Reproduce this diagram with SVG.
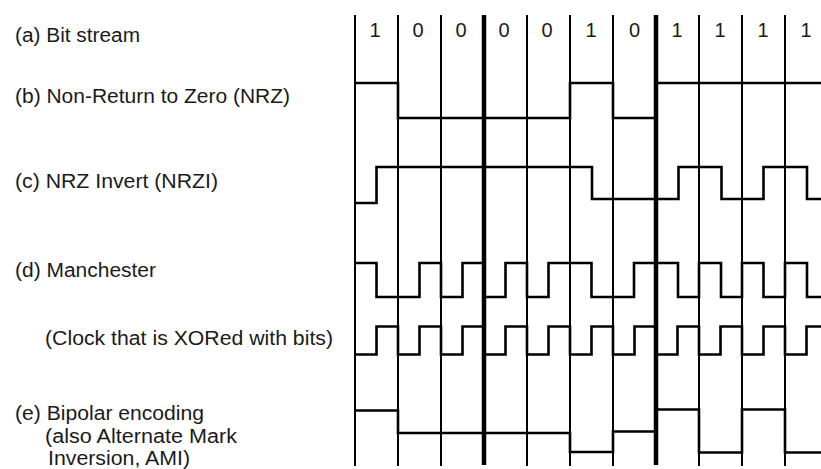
<svg xmlns="http://www.w3.org/2000/svg" width="821" height="469" viewBox="0 0 821 469">
<style>
text{font-family:"Liberation Sans",Arial,sans-serif;font-size:20px;fill:#1a1a1a}
.bit{text-anchor:middle}
.grid{stroke:#000;stroke-width:2;fill:none}
.thick{stroke:#000;stroke-width:4.5;fill:none}
.sig{stroke:#000;stroke-width:2.6;fill:none;stroke-linejoin:miter}
</style>
<rect width="821" height="469" fill="#fff"/>
<g id="grid">
<path class="grid" d="M355,15V466M398,15V466M441,15V466M527,15V466M570,15V466M613,15V466M699,15V466M742,15V466M785,15V466"/>
<path class="thick" d="M484,15V465M656,15V465"/>
</g>
<g id="bitstream">
<text x="15" y="42" textLength="125" lengthAdjust="spacingAndGlyphs">(a) Bit stream</text>
<text class="bit" x="375" y="37">1</text>
<text class="bit" x="418" y="37">0</text>
<text class="bit" x="461" y="37">0</text>
<text class="bit" x="504" y="37">0</text>
<text class="bit" x="547" y="37">0</text>
<text class="bit" x="591" y="37">1</text>
<text class="bit" x="634.5" y="37">0</text>
<text class="bit" x="677" y="37">1</text>
<text class="bit" x="720" y="37">1</text>
<text class="bit" x="763" y="37">1</text>
<text class="bit" x="806" y="37">1</text>
</g>
<g id="nrz">
<text x="15" y="103" textLength="275" lengthAdjust="spacingAndGlyphs">(b) Non-Return to Zero (NRZ)</text>
<path class="sig" d="M355,83H398V118H570V83H613V118H656V83H821"/>
</g>
<g id="nrzi">
<text x="15" y="188" textLength="203" lengthAdjust="spacingAndGlyphs">(c) NRZ Invert (NRZI)</text>
<path class="sig" d="M355,203H376.5V167H592V199H678.5V167H721.5V199H763.5V167H807V199H821"/>
</g>
<g id="manchester">
<text x="15" y="277" textLength="141" lengthAdjust="spacingAndGlyphs">(d) Manchester</text>
<path class="sig" d="M355,263H376.5V297H419.5V263H441V297H462.5V263H484V297H505.5V263H527V297H548.5V263H591.5V297H634V263H678V297H699V263H721V297H742V263H763.5V297H785V263H807V297H821"/>
</g>
<g id="clock">
<text x="45" y="345" textLength="288" lengthAdjust="spacingAndGlyphs">(Clock that is XORed with bits)</text>
<path class="sig" d="M355,354.5H376.5V326.5H398V354.5H419.5V326.5H441V354.5H462.5V326.5H484V354.5H505.5V326.5H527V354.5H548.5V326.5H570V354.5H591.5V326.5H613V354.5H634.5V326.5H656V354.5H677.5V326.5H699V354.5H720.5V326.5H742V354.5H763.5V326.5H785V354.5H806.5V326.5H821"/>
</g>
<g id="bipolar">
<text x="15" y="420" textLength="189" lengthAdjust="spacingAndGlyphs">(e) Bipolar encoding</text>
<text x="45" y="443" textLength="192" lengthAdjust="spacingAndGlyphs">(also Alternate Mark</text>
<text x="48" y="465" textLength="142" lengthAdjust="spacingAndGlyphs">Inversion, AMI)</text>
<path class="sig" d="M355,410.5H398V433H570V452H613V431.5H656V409.5H699V452.5H742V409.5H785V452.5H821"/>
</g>
</svg>
